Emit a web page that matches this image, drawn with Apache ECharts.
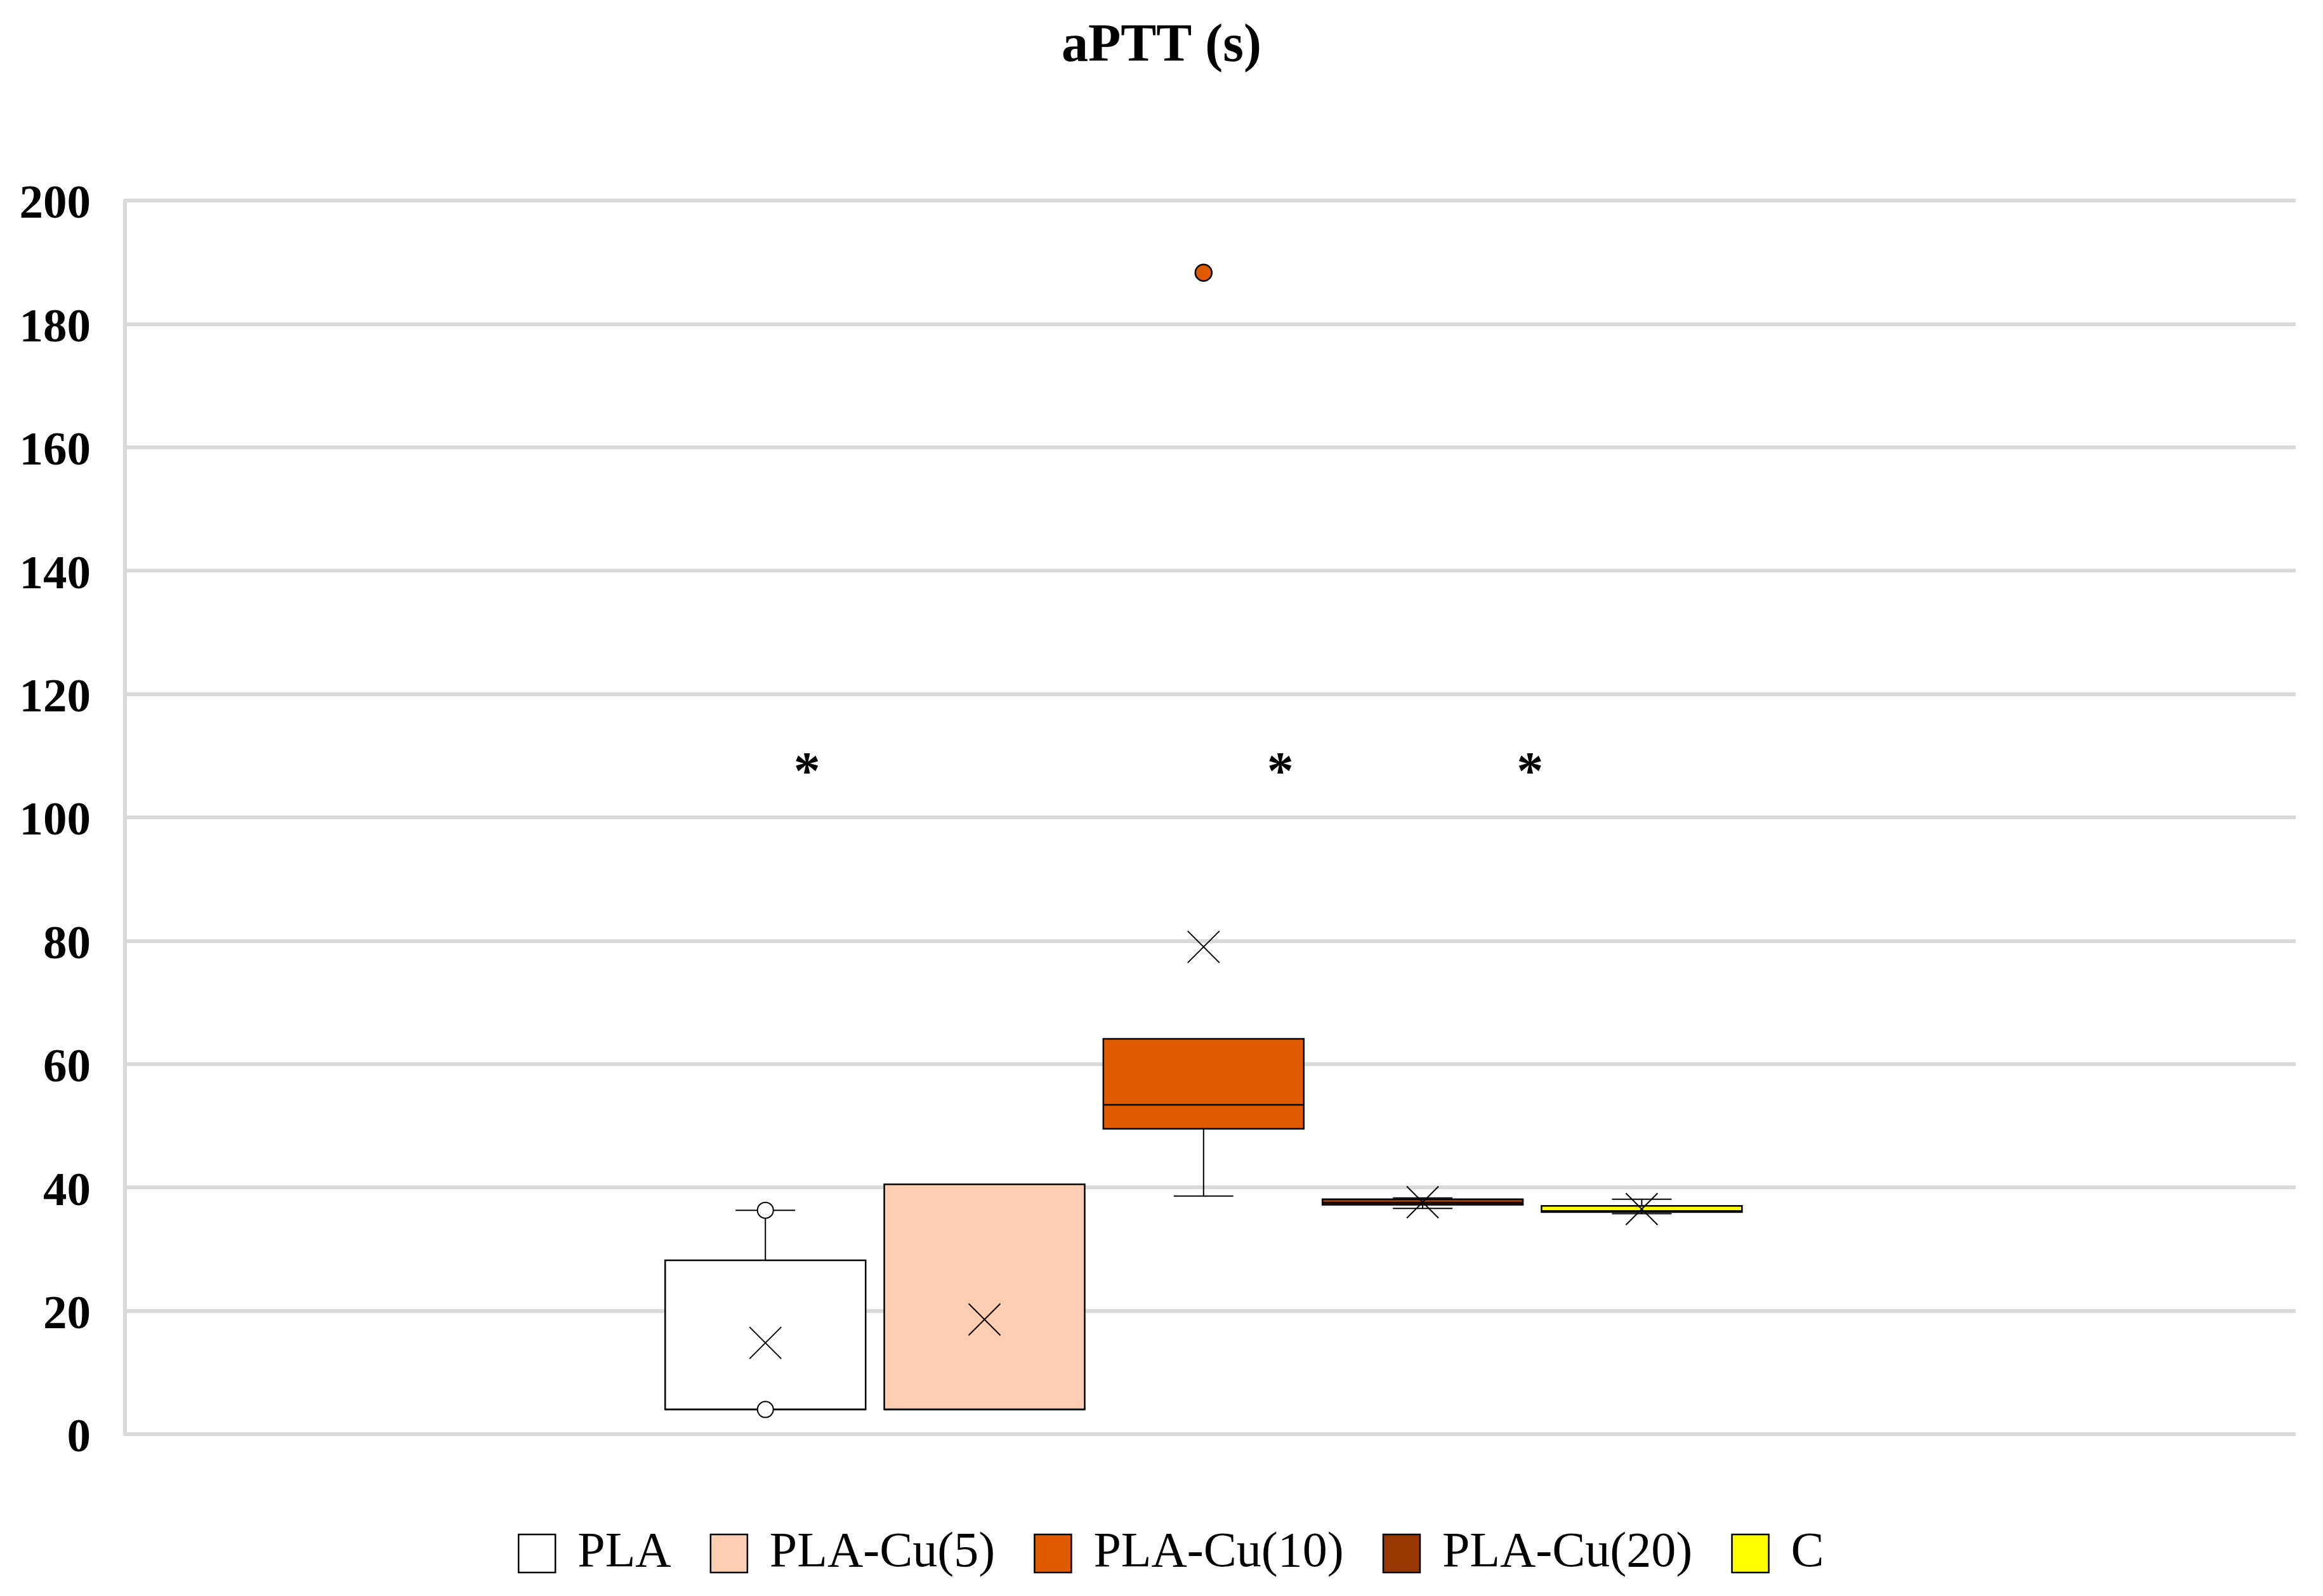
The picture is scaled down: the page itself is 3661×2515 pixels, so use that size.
<!DOCTYPE html>
<html>
<head>
<meta charset="utf-8">
<script src="https://cdn.jsdelivr.net/npm/echarts@6/dist/echarts.min.js"></script>
<style>html,body{margin:0;padding:0;background:#fff}#c{width:3661px;height:2515px}</style>
</head>
<body>
<div id="c"></div>
<script>
// ---- data ----
const categories = ['PLA', 'PLA-Cu(5)', 'PLA-Cu(10)', 'PLA-Cu(20)', 'C'];
const minVals    = [4.0, 4.0, 38.6, 36.6, 35.75];
const q1Vals     = [4.0, 4.0, 49.5, 37.2, 36.0];
const medianVals = [4.0, 4.0, 53.4, 37.5, 36.2];
const q3Vals     = [28.2, 40.5, 64.1, 38.1, 37.0];
const maxVals    = [36.3, 40.5, 64.1, 38.3, 38.1];
const meanVals   = [14.8, 18.6, 79.0, 37.6, 36.5];
const innerPoints = [[0, 36.3], [0, 4.0]];     // PLA points shown on whisker ends
const outlierPoints = [[2, 188.3]];            // PLA-Cu(10) outlier
const starX = [0.19, 2.35, 3.49];
const starY = 108.7;
const yTicks = [0, 20, 40, 60, 80, 100, 120, 140, 160, 180, 200];

// ---- styles ----
const colors = ['#ffffff', '#fdceb2', '#e05a00', '#963800', '#ffff00'];
const SERIF = '"Liberation Serif", "DejaVu Serif", serif';
const BOX_W = 0.915;   // box width in category steps
const CAP_W = 0.272;   // whisker cap width in category steps

const chart = echarts.init(document.getElementById('c'), null, {renderer: 'canvas'});

function renderBox(params, api) {
  const x = api.value(0);
  const c = v => api.coord([x, v]);
  const halfBox = api.size([BOX_W, 0])[0] / 2;
  const halfCap = api.size([CAP_W, 0])[0] / 2;
  const pMin = c(api.value(1)), pQ1 = c(api.value(2)), pMed = c(api.value(3)),
        pQ3 = c(api.value(4)), pMax = c(api.value(5));
  const color = api.visual('color');
  const ls = {stroke: '#000', lineWidth: 2};
  return {
    type: 'group',
    children: [
      {type: 'line', shape: {x1: pQ3[0], y1: pQ3[1], x2: pMax[0], y2: pMax[1]}, style: ls},
      {type: 'line', shape: {x1: pQ1[0], y1: pQ1[1], x2: pMin[0], y2: pMin[1]}, style: ls},
      {type: 'line', shape: {x1: pMax[0] - halfCap, y1: pMax[1], x2: pMax[0] + halfCap, y2: pMax[1]}, style: ls},
      {type: 'line', shape: {x1: pMin[0] - halfCap, y1: pMin[1], x2: pMin[0] + halfCap, y2: pMin[1]}, style: ls},
      {type: 'rect', shape: {x: pQ3[0] - halfBox, y: pQ3[1], width: halfBox * 2, height: pQ1[1] - pQ3[1]},
        style: {fill: color, stroke: '#000', lineWidth: 2.5}},
      {type: 'line', shape: {x1: pMed[0] - halfBox, y1: pMed[1], x2: pMed[0] + halfBox, y2: pMed[1]},
        style: {stroke: '#000', lineWidth: 2.5}}
    ]
  };
}

const boxSeries = categories.map((name, i) => ({
  name: name,
  type: 'custom',
  renderItem: renderBox,
  itemStyle: {color: colors[i], borderColor: '#000', borderWidth: 2},
  encode: {x: 0, y: [1, 2, 3, 4, 5]},
  data: [[i, minVals[i], q1Vals[i], medianVals[i], q3Vals[i], maxVals[i]]],
  z: 2
}));

const option = {
  backgroundColor: '#ffffff',
  animation: false,
  title: {
    text: 'aPTT (s)',
    left: 'center',
    top: 27,
    textStyle: {fontFamily: SERIF, fontSize: 84, fontWeight: 'bold', color: '#000'}
  },
  legend: {
    data: categories,
    left: 811,
    top: 2404,
    icon: 'rect',
    itemWidth: 58,
    itemHeight: 60,
    itemGap: 61,
    itemStyle: {borderColor: '#000', borderWidth: 2.5},
    textStyle: {fontFamily: SERIF, fontSize: 78, color: '#000', padding: [0, 0, 0, 30]}
  },
  grid: {left: 197, right: 43, top: 316, bottom: 255},
  xAxis: {
    type: 'value',
    min: -2.923,
    max: 6.985,
    show: false
  },
  yAxis: {
    type: 'value',
    min: yTicks[0],
    max: yTicks[yTicks.length - 1],
    interval: 20,
    axisLine: {show: true, onZero: false, lineStyle: {color: '#d9d9d9', width: 6}},
    axisTick: {show: false},
    splitLine: {show: true, lineStyle: {color: '#d9d9d9', width: 6}},
    axisLabel: {
      margin: 54,
      formatter: '{v|{value}}',
      rich: {v: {fontFamily: SERIF, fontSize: 75, fontWeight: 'bold', color: '#000', padding: [16, 0, 0, 0]}}
    }
  },
  series: boxSeries.concat([
    {
      name: 'mean',
      type: 'scatter',
      symbol: 'path://M0,0L10,10M10,0L0,10',
      symbolSize: 50,
      itemStyle: {color: 'transparent', borderColor: '#000', borderWidth: 2, opacity: 1},
      data: meanVals.map((v, i) => [i, v]),
      z: 5
    },
    {
      name: 'points',
      type: 'scatter',
      symbol: 'circle',
      symbolSize: 25,
      itemStyle: {color: '#ffffff', borderColor: '#000', borderWidth: 2, opacity: 1},
      data: innerPoints,
      z: 5
    },
    {
      name: 'outliers',
      type: 'scatter',
      symbol: 'circle',
      symbolSize: 26,
      itemStyle: {color: colors[2], borderColor: '#000', borderWidth: 2.5, opacity: 1},
      data: outlierPoints,
      z: 5
    },
    {
      name: 'stars',
      type: 'scatter',
      symbol: 'circle',
      symbolSize: 1,
      itemStyle: {color: 'transparent', opacity: 1},
      label: {show: true, position: 'inside', formatter: '*', fontFamily: SERIF, fontSize: 84, fontWeight: 'bold', color: '#000', offset: [0, 18]},
      data: starX.map(x => [x, starY]),
      z: 6
    }
  ])
};
chart.setOption(option);
</script>
</body>
</html>
